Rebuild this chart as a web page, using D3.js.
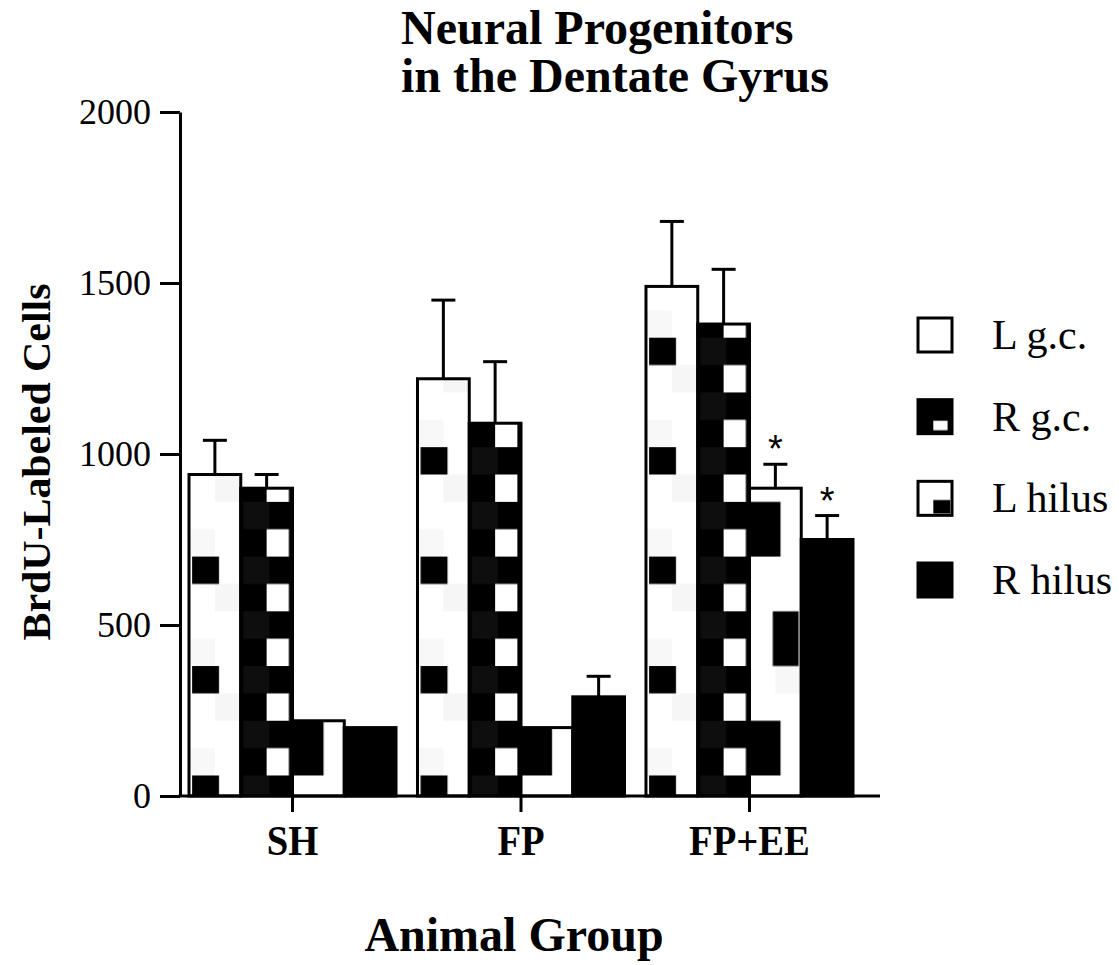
<!DOCTYPE html>
<html>
<head>
<meta charset="utf-8">
<script src="https://cdn.jsdelivr.net/npm/d3@7"></script>
<style>
  html, body { margin: 0; padding: 0; background: #fff; }
  svg { display: block; }
</style>
</head>
<body>
<svg id="chart" width="1119" height="965"></svg>
<script>
// ---- data ----
const categories = ["SH", "FP", "FP+EE"];
const seriesNames = ["L g.c.", "R g.c.", "L hilus", "R hilus"];
const lgcValues   = [940, 1220, 1490];
const lgcErrors   = [100, 230, 190];
const rgcValues   = [900, 1090, 1380];
const rgcErrors   = [40, 180, 160];
const lhilValues  = [220, 200, 900];
const lhilErrors  = [0, 0, 70];
const rhilValues  = [200, 290, 750];
const rhilErrors  = [0, 60, 70];
const lhilSig     = [false, false, true];
const rhilSig     = [false, false, true];
const yTicks      = [0, 500, 1000, 1500, 2000];
const titleLines  = ["Neural Progenitors", "in the Dentate Gyrus"];
const yTitle      = "BrdU-Labeled Cells";
const xTitle      = "Animal Group";

const series = [
  { key: "lgc",  name: seriesNames[0], values: lgcValues,  errors: lgcErrors,  sig: [false,false,false] },
  { key: "rgc",  name: seriesNames[1], values: rgcValues,  errors: rgcErrors,  sig: [false,false,false] },
  { key: "lhil", name: seriesNames[2], values: lhilValues, errors: lhilErrors, sig: lhilSig },
  { key: "rhil", name: seriesNames[3], values: rhilValues, errors: rhilErrors, sig: rhilSig }
];

const serif = "'Liberation Serif', 'Times New Roman', serif";
const svg = d3.select("#chart");
const defs = svg.append("defs");

const y = d3.scaleLinear().domain([0, 2000]).range([796, 112]);
const x0 = d3.scaleBand().domain(categories).range([189, 853]).paddingInner(0.094).paddingOuter(0);
const x1 = d3.scaleBand().domain(seriesNames).range([0, x0.bandwidth()]).padding(0);

const rowH = y(0) - y(80);
const anchorY = y(60);

function makePattern(id, key, bx, w) {
  const p = defs.append("pattern").attr("id", id).attr("patternUnits", "userSpaceOnUse")
    .attr("x", bx).attr("y", anchorY).attr("width", w);
  if (key === "lgc") {
    p.attr("height", 4 * rowH);
    p.append("rect").attr("width", w).attr("height", 4 * rowH).attr("fill", "#fff");
    p.append("rect").attr("x", w * 0.5).attr("y", rowH).attr("width", w * 0.5).attr("height", rowH).attr("fill", "#f6f6f6");
    p.append("rect").attr("x", 0).attr("y", 3 * rowH).attr("width", w * 0.5).attr("height", rowH).attr("fill", "#f8f8f8");
    p.append("rect").attr("x", w * 0.06).attr("y", 0).attr("width", w * 0.52).attr("height", rowH).attr("fill", "#000");
  } else if (key === "rgc") {
    p.attr("height", 2 * rowH);
    p.append("rect").attr("width", w).attr("height", 2 * rowH).attr("fill", "#000");
    p.append("rect").attr("x", w * 0.05).attr("y", 0).attr("width", w * 0.5).attr("height", rowH).attr("fill", "#0e0e0e");
    p.append("rect").attr("x", w * 0.5).attr("y", rowH).attr("width", w * 0.43).attr("height", rowH).attr("fill", "#fff");
  } else if (key === "lhil") {
    p.attr("height", 8 * rowH);
    p.append("rect").attr("width", w).attr("height", 8 * rowH).attr("fill", "#fff");
    p.append("rect").attr("x", w * 0.5).attr("y", 4 * rowH).attr("width", w * 0.5).attr("height", rowH).attr("fill", "#f7f7f7");
    p.append("rect").attr("x", 0).attr("y", 6 * rowH).attr("width", w * 0.6).attr("height", 2 * rowH).attr("fill", "#000");
    p.append("rect").attr("x", w * 0.45).attr("y", 2 * rowH).attr("width", w * 0.5).attr("height", 2 * rowH).attr("fill", "#000");
  } else {
    p.attr("height", rowH);
    p.append("rect").attr("width", w).attr("height", rowH).attr("fill", "#000");
  }
}

series.forEach(s => {
  categories.forEach((c, ci) => {
    makePattern(`pat-${s.key}-${ci}`, s.key, x0(c) + x1(s.name), x1.bandwidth());
  });
});

const barData = [];
categories.forEach((c, ci) => {
  series.forEach(s => {
    barData.push({ cat: c, ci, s, v: s.values[ci], e: s.errors[ci], sig: s.sig[ci] });
  });
});
const cx = d => x0(d.cat) + x1(d.s.name) + x1.bandwidth() / 2;

// ---- bars ----
svg.append("g").selectAll("rect.bar").data(barData).join("rect")
  .attr("class", "bar")
  .attr("x", d => x0(d.cat) + x1(d.s.name))
  .attr("y", d => y(d.v))
  .attr("width", x1.bandwidth())
  .attr("height", d => y(0) - y(d.v))
  .attr("fill", d => `url(#pat-${d.s.key}-${d.ci})`)
  .attr("stroke", "#000")
  .attr("stroke-width", 3);

// error bars
const errData = barData.filter(d => d.e > 0);
const capHalf = 12;
const errG = svg.append("g").attr("stroke", "#000").attr("stroke-width", 3);
errG.selectAll("line.stem").data(errData).join("line")
  .attr("x1", cx).attr("x2", cx)
  .attr("y1", d => y(d.v)).attr("y2", d => y(d.v + d.e));
errG.selectAll("line.cap").data(errData).join("line")
  .attr("x1", d => cx(d) - capHalf).attr("x2", d => cx(d) + capHalf)
  .attr("y1", d => y(d.v + d.e)).attr("y2", d => y(d.v + d.e));

// significance stars
svg.append("g").selectAll("text").data(barData.filter(d => d.sig)).join("text")
  .attr("x", cx)
  .attr("y", d => y(d.v + d.e) - 2)
  .attr("text-anchor", "middle")
  .attr("font-family", "'Liberation Sans', Arial, sans-serif")
  .attr("font-size", 38)
  .attr("fill", "#000")
  .text("*");

// ---- axes ----
const yAxis = d3.axisLeft(y).tickValues(yTicks).tickSize(20).tickSizeOuter(0).tickPadding(9).tickFormat(d3.format("d"));
const yG = svg.append("g").attr("transform", "translate(180,0)").call(yAxis);
yG.select(".domain").attr("stroke-width", 3).attr("stroke", "#000");
yG.selectAll(".tick line").attr("stroke-width", 3).attr("stroke", "#000");
yG.selectAll(".tick text").attr("font-family", serif).attr("font-size", 36).attr("fill", "#000");

svg.append("line").attr("x1", 178.5).attr("x2", 880).attr("y1", y(0)).attr("y2", y(0))
  .attr("stroke", "#000").attr("stroke-width", 3);

const xAxis = d3.axisBottom(x0).tickSize(16).tickSizeOuter(0);
const xG = svg.append("g").attr("transform", `translate(0,${y(0)})`).call(xAxis);
xG.select(".domain").remove();
xG.selectAll(".tick line").attr("stroke-width", 3).attr("stroke", "#000");
xG.selectAll(".tick text").attr("font-family", serif).attr("font-weight", "bold")
  .attr("font-size", 42).attr("fill", "#000").attr("y", 59).attr("dy", null)
  .each(function () {
    const len = this.getComputedTextLength();
    d3.select(this).attr("textLength", len * 0.92).attr("lengthAdjust", "spacingAndGlyphs");
  });

// ---- titles ----
svg.append("text").attr("font-family", serif).attr("font-weight", "bold").attr("font-size", 48)
  .selectAll("tspan").data(titleLines).join("tspan")
  .attr("x", 401).attr("y", (d, i) => 44 + i * 48).text(d => d);

svg.append("text")
  .attr("transform", `translate(50,462) rotate(-90)`)
  .attr("text-anchor", "middle")
  .attr("font-family", serif).attr("font-weight", "bold").attr("font-size", 40)
  .attr("textLength", 357).attr("lengthAdjust", "spacingAndGlyphs")
  .text(yTitle);

svg.append("text").attr("x", 514).attr("y", 951).attr("text-anchor", "middle")
  .attr("font-family", serif).attr("font-weight", "bold").attr("font-size", 48)
  .text(xTitle);

// ---- legend ----
const legPatterns = [
  { key: "lgc", bg: "#fff", inner: null },
  { key: "rgc", bg: "#000", inner: { fill: "#fff", x: 0.45, y: 0.62, w: 0.42, h: 0.28 } },
  { key: "lhil", bg: "#fff", inner: { fill: "#000", x: 0.45, y: 0.55, w: 0.5, h: 0.4 } },
  { key: "rhil", bg: "#000", inner: null }
];
legPatterns.forEach(lp => {
  const p = defs.append("pattern").attr("id", `leg-${lp.key}`)
    .attr("patternUnits", "objectBoundingBox").attr("patternContentUnits", "objectBoundingBox")
    .attr("width", 1).attr("height", 1);
  p.append("rect").attr("width", 1).attr("height", 1).attr("fill", lp.bg);
  if (lp.inner) p.append("rect").attr("x", lp.inner.x).attr("y", lp.inner.y)
    .attr("width", lp.inner.w).attr("height", lp.inner.h).attr("fill", lp.inner.fill);
});

const legY = d3.scalePoint().domain(seriesNames).range([335, 580]);
const leg = svg.append("g").selectAll("g").data(series).join("g")
  .attr("transform", d => `translate(918,${legY(d.name)})`);
leg.append("rect").attr("x", 0).attr("y", -17).attr("width", 34).attr("height", 34)
  .attr("fill", d => `url(#leg-${d.key})`).attr("stroke", "#000").attr("stroke-width", 3);
leg.append("text").attr("x", 74).attr("y", 14)
  .attr("font-family", serif).attr("font-size", 42).attr("fill", "#000")
  .text(d => d.name);
</script>
</body>
</html>
